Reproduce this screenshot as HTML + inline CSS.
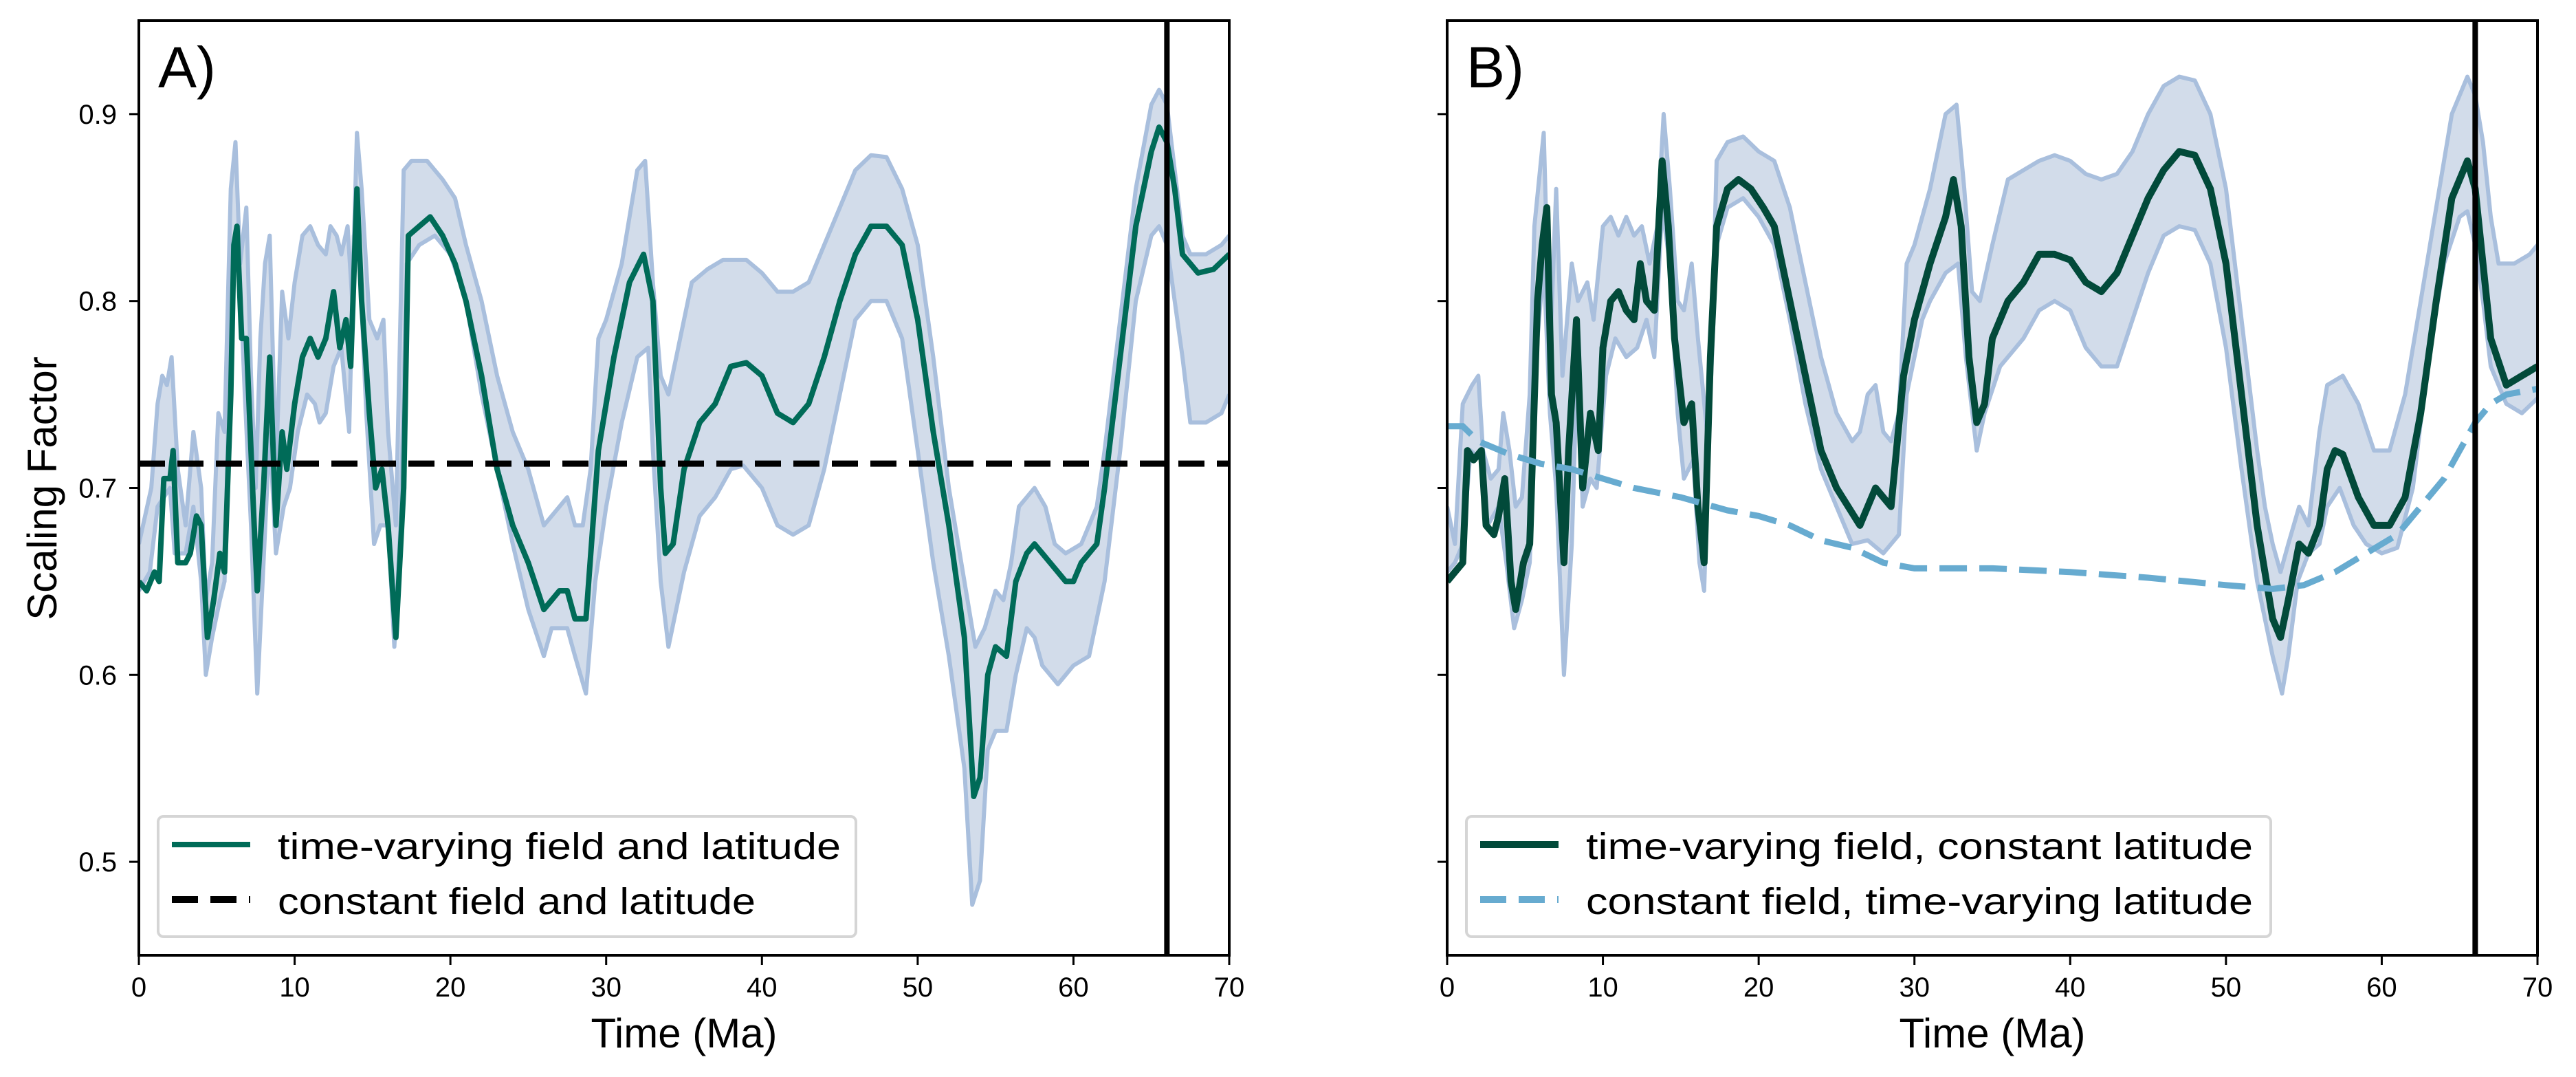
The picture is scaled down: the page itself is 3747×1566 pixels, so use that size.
<!DOCTYPE html>
<html><head><meta charset="utf-8"><style>
html,body{margin:0;padding:0;background:#fff}
svg{display:block}
text{font-family:"Liberation Sans","DejaVu Sans",sans-serif}
</style></head><body>
<svg id="fig" xmlns="http://www.w3.org/2000/svg" width="3747" height="1566" viewBox="0 0 3747 1566"></svg>
<script>
// ===== Panel A data =====
const aMeanT=[0,0.5,1,1.3,1.6,2,2.2,2.5,3,3.3,3.7,4,4.4,4.8,5.2,5.5,5.9,6.1,6.3,6.6,6.9,7.2,7.4,7.6,8,8.4,8.8,9.2,9.5,10,10.5,11,11.5,12,12.5,12.9,13.3,13.6,14,14.3,14.8,15.2,15.6,16,16.5,17,17.3,18,18.7,19.5,20.3,21,22,23,24,25,26,27,27.5,28,28.7,29.5,30.5,31.5,32.4,33,33.5,33.8,34.3,35,36,37,38,39,40,41,42,43,44,45,46,47,48,49,50,51,52,53,53.6,54,54.5,55,55.7,56.3,57,57.5,58,59,59.5,60,60.5,61.5,62,63,64,65,65.5,66,66.5,67,68,69,70];
const aMeanV=[0.65,0.645,0.655,0.65,0.705,0.705,0.72,0.66,0.66,0.665,0.685,0.68,0.62,0.64,0.665,0.655,0.75,0.83,0.84,0.78,0.78,0.72,0.68,0.645,0.7,0.77,0.68,0.73,0.71,0.745,0.77,0.78,0.77,0.78,0.805,0.775,0.79,0.765,0.86,0.8,0.74,0.70,0.71,0.68,0.62,0.70,0.835,0.84,0.845,0.835,0.82,0.8,0.76,0.71,0.68,0.66,0.635,0.645,0.645,0.63,0.63,0.72,0.77,0.81,0.825,0.8,0.7,0.665,0.67,0.71,0.735,0.745,0.765,0.767,0.76,0.74,0.735,0.745,0.77,0.8,0.825,0.84,0.84,0.83,0.79,0.73,0.68,0.62,0.535,0.545,0.6,0.615,0.61,0.65,0.665,0.67,0.665,0.655,0.65,0.65,0.66,0.67,0.7,0.77,0.84,0.88,0.893,0.885,0.86,0.825,0.815,0.817,0.825];
const aUpT=[0,0.8,1.2,1.5,1.8,2.1,2.5,3,3.5,4,4.3,4.7,5.1,5.5,5.9,6.2,6.5,6.9,7.2,7.5,7.8,8.1,8.4,8.8,9.2,9.6,10,10.5,11,11.5,12,12.3,12.7,13,13.4,13.7,14,14.3,14.8,15.3,15.7,16,16.5,17,17.5,18.5,19.5,20.3,21,22,23,24,25,26,26.5,27.5,28,28.5,29,29.5,30,31,32,32.5,33,33.5,34,34.5,35.5,36.5,37.5,39,40,41,42,43,44,45,46,47,48,49,50,51,52,53,53.7,54.3,55,55.5,56,56.5,57.5,58.2,58.8,59.5,60.5,61.5,62,63,64,65,65.5,66,66.5,67,67.5,68.5,69.5,70];
const aUpV=[0.67,0.70,0.745,0.76,0.755,0.77,0.71,0.68,0.73,0.7,0.64,0.66,0.74,0.73,0.86,0.885,0.82,0.85,0.76,0.70,0.78,0.82,0.835,0.71,0.805,0.78,0.81,0.835,0.84,0.83,0.825,0.84,0.835,0.825,0.84,0.8,0.89,0.86,0.79,0.78,0.79,0.73,0.68,0.87,0.875,0.875,0.865,0.855,0.83,0.8,0.76,0.73,0.71,0.68,0.685,0.695,0.68,0.68,0.71,0.78,0.79,0.82,0.87,0.875,0.81,0.76,0.75,0.77,0.81,0.817,0.822,0.822,0.815,0.805,0.805,0.81,0.83,0.85,0.87,0.878,0.877,0.86,0.83,0.77,0.7,0.65,0.615,0.625,0.645,0.64,0.66,0.69,0.7,0.69,0.67,0.665,0.67,0.69,0.72,0.79,0.86,0.905,0.913,0.905,0.87,0.835,0.825,0.825,0.83,0.835];
const aLoT=[0,0.7,1.2,2,2.3,3,3.5,4,4.3,4.7,5.2,5.5,6,6.4,6.8,7.2,7.6,8,8.4,8.8,9.3,9.7,10.2,10.8,11.3,11.6,12,12.5,13,13.5,13.8,14.1,14.6,15.1,15.5,16,16.4,16.8,17.2,18,19,20,21,22,23,24,25,26,26.5,27.5,28,28.7,29.3,30,31,32,32.7,33,33.5,34,35,36,37,38,38.8,40,41,42,43,44,45,46,47,48,49,50,51,52,53,53.5,54,54.5,55,55.7,56.3,57,57.5,58,59,59.5,60,61,62,63,64,65,65.5,66,66.5,67,67.5,68.5,69.5,70];
const aLoV=[0.645,0.655,0.69,0.7,0.665,0.665,0.69,0.65,0.6,0.62,0.64,0.65,0.825,0.83,0.75,0.68,0.59,0.66,0.73,0.665,0.69,0.7,0.73,0.75,0.745,0.735,0.74,0.765,0.775,0.73,0.835,0.835,0.74,0.67,0.68,0.68,0.615,0.68,0.82,0.83,0.835,0.825,0.8,0.75,0.71,0.67,0.635,0.61,0.625,0.625,0.61,0.59,0.65,0.69,0.735,0.77,0.775,0.72,0.65,0.615,0.655,0.685,0.695,0.71,0.712,0.70,0.68,0.675,0.68,0.71,0.75,0.79,0.8,0.8,0.78,0.72,0.66,0.61,0.55,0.477,0.49,0.56,0.57,0.57,0.6,0.625,0.62,0.605,0.595,0.6,0.605,0.61,0.65,0.72,0.8,0.835,0.84,0.83,0.8,0.77,0.735,0.735,0.74,0.75];
const aConst=[0.713];
// ===== Panel B data =====
const bMeanT=[0,0.5,1,1.3,1.7,2.2,2.5,3,3.3,3.7,4.1,4.4,4.9,5.3,5.8,6.1,6.4,6.7,7,7.5,7.8,8.3,8.7,9.2,9.7,10,10.5,11,11.5,12,12.4,12.8,13.3,13.8,14.2,14.6,15.2,15.7,16.1,16.5,16.9,17.3,18,18.7,19.5,20.3,21,22,23,24,25,26.5,27.5,28.5,29.3,30,31,32,32.5,33,33.5,34,34.5,35,36,37,38,39,40,41,42,43,44,45,46,47,48,49,50,51,52,53,53.5,54,54.7,55.3,56,56.5,57,57.5,58.5,59.5,60.5,61.5,62.5,63.5,64.5,65.5,66,66.5,67,68,69,70];
const bMeanV=[0.65,0.655,0.66,0.72,0.715,0.72,0.68,0.675,0.685,0.705,0.65,0.635,0.66,0.67,0.8,0.83,0.85,0.75,0.735,0.66,0.72,0.79,0.7,0.74,0.72,0.775,0.8,0.805,0.795,0.79,0.82,0.80,0.795,0.875,0.84,0.78,0.735,0.745,0.69,0.66,0.77,0.84,0.86,0.865,0.86,0.85,0.84,0.8,0.76,0.72,0.7,0.68,0.7,0.69,0.76,0.79,0.82,0.845,0.865,0.84,0.77,0.735,0.745,0.78,0.8,0.81,0.825,0.825,0.822,0.81,0.805,0.815,0.835,0.855,0.87,0.88,0.878,0.86,0.82,0.75,0.68,0.63,0.62,0.64,0.67,0.665,0.68,0.71,0.72,0.718,0.695,0.68,0.68,0.695,0.74,0.8,0.855,0.875,0.86,0.82,0.78,0.755,0.76,0.765];
const bUpT=[0,0.5,1,1.6,2,2.3,2.8,3.3,3.6,4,4.4,4.8,5.3,5.6,6.2,6.6,7,7.4,8,8.4,9,9.4,10,10.5,11,11.5,12,12.5,13,13.5,13.9,14.3,14.8,15.2,15.7,16.1,16.8,17.3,18,19,20,21,22,23,24,25,26,26.5,27,27.5,28,28.5,29,29.5,30,31,32,32.7,33.2,33.7,34.2,35,36,37,38,39,40,41,42,43,44,45,46,47,48,49,50,51,52,52.5,53,53.5,54,54.7,55.3,56,56.5,57.5,58.5,59.5,60.5,61.5,62.5,63.5,64.5,65.5,66,66.5,67,67.5,68.5,69.5,70];
const bUpV=[0.69,0.67,0.745,0.755,0.76,0.72,0.705,0.71,0.74,0.72,0.69,0.695,0.75,0.84,0.89,0.77,0.86,0.76,0.82,0.8,0.81,0.79,0.84,0.845,0.835,0.845,0.835,0.84,0.82,0.84,0.9,0.86,0.8,0.795,0.82,0.78,0.72,0.875,0.885,0.888,0.88,0.875,0.85,0.81,0.77,0.74,0.725,0.73,0.75,0.755,0.73,0.725,0.74,0.82,0.83,0.86,0.9,0.905,0.86,0.805,0.8,0.83,0.865,0.87,0.875,0.878,0.875,0.868,0.865,0.868,0.88,0.9,0.915,0.92,0.918,0.9,0.86,0.79,0.72,0.69,0.67,0.655,0.67,0.69,0.68,0.73,0.755,0.76,0.745,0.72,0.72,0.75,0.8,0.85,0.9,0.92,0.91,0.885,0.845,0.82,0.82,0.825,0.83];
const bLoT=[0,0.5,1,1.5,2.2,2.6,3.3,3.8,4.3,4.8,5.3,5.8,6.2,6.6,7,7.5,8,8.4,8.7,9.2,9.6,10.2,10.8,11.5,12.2,12.8,13.3,13.8,14.3,14.8,15.2,15.8,16.2,16.5,16.9,17.3,18,19,20,21,22,23,24,25,26,27,28,29,29.5,30.5,31,32,32.8,33.3,34,34.5,35.5,37,38,39,40,41,42,43,44,45,46,47,48,49,50,51,52,53,53.6,54,54.6,55.3,56,56.5,57.3,58.2,59,60,61,62,63,64,65,65.5,66,66.5,67,68,69,70];
const bLoV=[0.655,0.66,0.67,0.72,0.715,0.68,0.69,0.66,0.625,0.64,0.66,0.78,0.82,0.74,0.7,0.6,0.67,0.78,0.69,0.705,0.7,0.76,0.78,0.77,0.775,0.79,0.77,0.85,0.82,0.74,0.705,0.715,0.66,0.645,0.75,0.83,0.85,0.855,0.845,0.83,0.79,0.745,0.71,0.69,0.67,0.672,0.665,0.675,0.75,0.79,0.80,0.815,0.82,0.77,0.72,0.74,0.765,0.78,0.795,0.8,0.795,0.775,0.765,0.765,0.79,0.815,0.835,0.84,0.838,0.82,0.775,0.71,0.65,0.61,0.59,0.61,0.65,0.665,0.67,0.69,0.7,0.68,0.67,0.665,0.668,0.7,0.77,0.82,0.845,0.848,0.83,0.8,0.765,0.745,0.74,0.748];
const bLatT=[0,1,2,4,6,8,10,12,15,18,20,22,24,26,28,30,35,40,45,50,53,55,57,59,61,62,63,64,65,66,67,68,70];
const bLatV=[0.733,0.733,0.725,0.718,0.713,0.71,0.705,0.70,0.695,0.688,0.685,0.68,0.672,0.668,0.66,0.657,0.657,0.655,0.652,0.648,0.646,0.648,0.655,0.665,0.675,0.685,0.695,0.705,0.72,0.735,0.745,0.75,0.753];
const kPg=[66];
const xTicks=[0,10,20,30,40,50,60,70];
const yTicks=[0.5,0.6,0.7,0.8,0.9];
const yTickLabels=["0.5","0.6","0.7","0.8","0.9"];

const NS="http://www.w3.org/2000/svg";
const svg=document.getElementById('fig');
function mk(tag,attrs,parent){const e=document.createElementNS(NS,tag);for(const k in attrs)e.setAttribute(k,attrs[k]);(parent||svg).appendChild(e);return e;}
const TOP=30,BOT=1389,W=1586;
function axes(x0){return{x:t=>x0+t/70*W,y:v=>BOT-(v-0.45)/0.5*(BOT-TOP),x0:x0};}
function pts(ax,T,V){return T.map((t,i)=>ax.x(t).toFixed(1)+','+ax.y(V[i]).toFixed(1)).join(' ');}

function panel(x0,id,showY,label,band,mean,meanColor,meanW,extra,legend){
  const ax=axes(x0);
  const g=mk('g',{});
  
  
  const cid='clip'+id;
  const cp=mk('clipPath',{id:cid},g);mk('rect',{x:x0,y:TOP,width:W,height:BOT-TOP},cp);
  const plot=mk('g',{'clip-path':'url(#'+cid+')'},g);
  const lower=band[2].map((t,i)=>ax.x(t).toFixed(1)+','+ax.y(band[3][i]).toFixed(1)).reverse().join(' ');
  const poly=pts(ax,band[0],band[1])+' '+lower;
  const f=mk('polygon',{points:poly,fill:'#d2dcea',stroke:'none'},plot);
  
  
  const u=mk('polyline',{points:pts(ax,band[0],band[1]),fill:'none',stroke:'#a9bfdd','stroke-width':6,'stroke-linejoin':'round'},plot);
  
  
  const l=mk('polyline',{points:pts(ax,band[2],band[3]),fill:'none',stroke:'#a9bfdd','stroke-width':6,'stroke-linejoin':'round'},plot);
  
  
  const m=mk('polyline',{points:pts(ax,mean[0],mean[1]),fill:'none',stroke:meanColor,'stroke-width':meanW,'stroke-linejoin':'round'},plot);
  
  
  extra(ax,plot);
  const kl=mk('line',{x1:ax.x(kPg[0]),x2:ax.x(kPg[0]),y1:TOP,y2:BOT,stroke:'#000','stroke-width':8},plot);
  
  
  const fr=mk('rect',{x:x0,y:TOP,width:W,height:BOT-TOP,fill:'none',stroke:'#000','stroke-width':4},g);
  
  
  xTicks.forEach(t=>{
    mk('line',{x1:ax.x(t),x2:ax.x(t),y1:BOT,y2:BOT+14,stroke:'#000','stroke-width':3},g);
    const tx=mk('text',{x:ax.x(t),y:1449,'font-size':40,'text-anchor':'middle'},g);tx.textContent=String(t);
    
    
  });
  yTicks.forEach((v,i)=>{
    mk('line',{x1:x0-14,x2:x0,y1:ax.y(v),y2:ax.y(v),stroke:'#000','stroke-width':3},g);
    if(showY){const ty=mk('text',{x:x0-32,y:ax.y(v)+14,'font-size':40,'text-anchor':'end'},g);ty.textContent=yTickLabels[i];
      
      }
  });
  const xl=mk('text',{x:x0+W/2,y:1523,'font-size':60,'text-anchor':'middle'},g);xl.textContent='Time (Ma)';
  
  
  const pl=mk('text',{x:x0+28,y:127,'font-size':84},g);pl.textContent=label;
  
  
  const lg=mk('g',{},g);
  
  
  mk('rect',{x:x0+28,y:1187,width:legend.w,height:175,rx:8,fill:'#fff',stroke:'#d5d5d5','stroke-width':4},lg);
  legend.rows.forEach((r,i)=>{
    const y=1228+i*80;
    mk('line',Object.assign({x1:x0+48,x2:x0+162,y1:y,y2:y,stroke:r.c,'stroke-width':r.w},r.dash?{'stroke-dasharray':r.dash}:{}),lg);
    const t=mk('text',{x:x0+202,y:y+21,'font-size':54,textLength:r.len,lengthAdjust:'spacingAndGlyphs'},lg);t.textContent=r.t;
    
    
  });
}

panel(202,'a',true,'A)',[aUpT,aUpV,aLoT,aLoV],[aMeanT,aMeanV],'#006b58',8,(ax,p)=>{
  const c=mk('line',{x1:ax.x0,x2:ax.x0+W,y1:ax.y(aConst[0]),y2:ax.y(aConst[0]),stroke:'#000','stroke-width':9,'stroke-dasharray':'38 18'},p);
  
  
},{w:1015,rows:[{c:'#006b58',w:8,t:'time-varying field and latitude',len:819},{c:'#000',w:10,dash:'38 18',t:'constant field and latitude',len:695}]});

panel(2105,'b',false,'B)',[bUpT,bUpV,bLoT,bLoV],[bMeanT,bMeanV],'#024a3a',10,(ax,p)=>{
  const c=mk('polyline',{points:pts(ax,bLatT,bLatV),fill:'none',stroke:'#67abd0','stroke-width':9,'stroke-dasharray':'40 18'},p);
  
  
},{w:1170,rows:[{c:'#024a3a',w:10,t:'time-varying field, constant latitude',len:970},{c:'#67abd0',w:10,dash:'38 18',t:'constant field, time-varying latitude',len:970}]});

const yt=mk('text',{x:0,y:0,'font-size':60,'text-anchor':'middle',transform:'translate(82,710) rotate(-90)'});
yt.textContent='Scaling Factor';


</script>
</body></html>
